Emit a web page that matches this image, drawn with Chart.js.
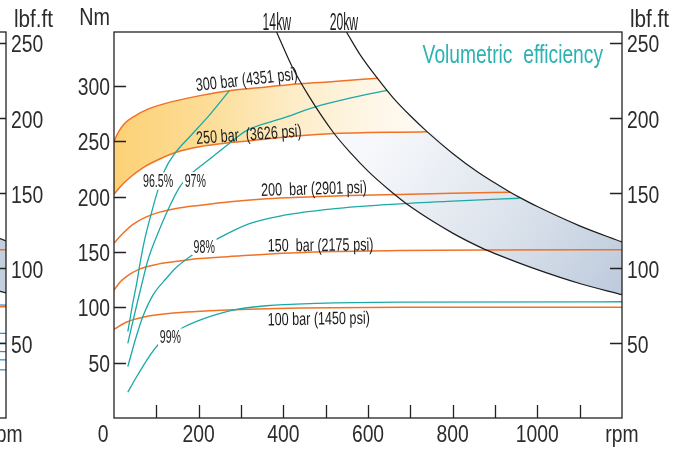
<!DOCTYPE html>
<html>
<head>
<meta charset="utf-8">
<script src="https://cdn.jsdelivr.net/npm/chart.js@4.4.1/dist/chart.umd.min.js"></script>
<style>
  body { margin: 0; background: #fff; overflow: hidden; }
  #wrap { position: relative; width: 681px; height: 452px; overflow: hidden; }
  #prevChart { position: absolute; left: -616px; top: 0; }
  #mainChart { position: absolute; left: 0; top: 0; }
</style>
</head>
<body>
<div id="wrap">
  <canvas id="prevChart" width="681" height="452"></canvas>
  <canvas id="mainChart" width="681" height="452"></canvas>
</div>
<script>
// torque (Nm) against speed (rpm) at each pressure
const rpm300 = [0, 10, 25, 50, 80, 120, 200, 280, 360, 440, 520, 622];
const nm300 = [250, 258, 266, 273, 279, 284, 291, 296, 299, 302, 304, 307];
const rpm250 = [0, 15, 37, 68, 108, 147, 202, 281, 360, 438, 520, 600, 675, 740];
const nm250 = [202, 209, 217, 226, 234, 240, 245, 249, 252, 255, 257, 257.8, 258.2, 258.5];
const rpm200 = [0, 20, 45, 75, 108, 150, 200, 281, 360, 440, 557, 675, 800, 936];
const nm200 = [158, 166.5, 175, 181.5, 186, 189.5, 192, 195.5, 198, 199.5, 201, 202, 203, 204];
const rpm150 = [0, 15, 30, 60, 104, 150, 202, 300, 360, 517, 675, 900, 1200];
const nm150 = [115.5, 123, 128, 134.5, 139, 141.5, 144, 146.5, 148, 150.3, 151.3, 151.8, 152];
const rpm100 = [0, 29, 68, 147, 226, 281, 360, 438, 675, 1200];
const nm100 = [80, 86.5, 91, 95, 96.8, 97.8, 98.8, 99.4, 100, 100];

// volumetric efficiency lines
const rpmEff965 = [32.6, 44, 55, 60, 72, 88, 103.5, 119.4, 143, 180, 221.7, 273];
const nmEff965 = [78, 103, 124.5, 136.5, 160.5, 184.6, 205.6, 223.6, 238.6, 254.5, 272, 296];
const rpmEff97 = [32.6, 45, 55.5, 68, 80, 103.5, 127, 155, 182.5, 221.7, 261, 315, 399, 478, 557, 645];
const nmEff97 = [67.5, 88, 105, 124.5, 142.5, 166.6, 187.6, 208.6, 220.6, 232.6, 244.6, 260, 270.8, 281.3, 288.9, 296];
const rpmEff98 = [32.6, 52.5, 68, 92, 123.4, 150, 178.5, 210, 245, 320, 399, 517, 675, 800, 958];
const nmEff98 = [46.4, 73.4, 91.4, 111, 126, 137, 145.5, 154, 162, 175.6, 183, 189, 193.5, 196, 198.5];
const rpmEff99 = [32.6, 50, 68, 85, 103.5, 135, 166.7, 225.8, 281, 360, 478, 675, 1200];
const nmEff99 = [23.3, 35, 46.4, 56.5, 66, 75, 82.4, 91.5, 97.5, 101.4, 103.5, 104.7, 105];

// constant power lines
const rpm14kw = [384, 420, 460, 520, 560, 600, 650, 700, 800, 872, 900, 1000, 1100, 1200];
const nm14kw = [348.7, 318, 291, 257, 239, 223, 206, 191, 167, 153, 148.5, 134, 121.5, 111.4];
const rpm20kw = [549, 580, 622, 660, 700, 740, 800, 860, 936, 958, 1000, 1100, 1200];
const nm20kw = [348.7, 329, 307, 289, 273, 258.5, 239, 222, 204, 199.3, 191, 173.6, 159];

// right edge of the neighbouring chart
const prevRpm = [1100, 1200];
const prevBandTop = [175, 160];
const prevBandBottom = [123, 113];
const prevPressA = [152, 152];
const prevPressB = [100.5, 100.5];
const prevEffLines = [[103, 102], [77, 76.5], [68, 67.5], [60.5, 60], [53, 52.5], [44, 43.5]];

// axes
const rpmTicks = [100, 200, 300, 400, 500, 600, 700, 800, 900, 1000, 1100, 1200];
const nmTicks = [50, 100, 150, 200, 250, 300];
const lbfTicks = [50, 100, 150, 200, 250];
const rpmMax = 1200;
const nmMax = 348.7;
const nmPerLbfFt = 1.3558;

const FONT = "'Liberation Sans', Arial, sans-serif";
const ORANGE = '#f07226';
const TEAL = '#1aa9a7';
const INK = '#222';

const notes = [
  { text: '300 bar (4351 psi)', rpm: 195, nm: 295.4, angle: -6.5, size: 18, sx: 0.7 },
  { text: '250 bar  (3626 psi)', rpm: 195, nm: 247.6, angle: -4, size: 18, sx: 0.7 },
  { text: '200  bar (2901 psi)', rpm: 348, nm: 200.6, angle: -1.6, size: 18, sx: 0.7 },
  { text: '150  bar (2175 psi)', rpm: 363, nm: 150.4, angle: -0.6, size: 18, sx: 0.7 },
  { text: '100 bar (1450 psi)', rpm: 363, nm: 83.6, angle: -1, size: 18, sx: 0.7 },
  { text: '96.5%', rpm: 68.5, nm: 208.4, angle: 0, size: 19, sx: 0.56, box: true },
  { text: '97%', rpm: 167, nm: 208.7, angle: 0, size: 19, sx: 0.56, box: true },
  { text: '98%', rpm: 188, nm: 149.3, angle: 0, size: 19, sx: 0.56, box: true },
  { text: '99%', rpm: 108, nm: 67.5, angle: 0, size: 19, sx: 0.56, box: true },
  { text: '14kw', rpm: 351, nm: 350.6, angle: 0, size: 23, sx: 0.53 },
  { text: '20kw', rpm: 509.5, nm: 350.6, angle: 0, size: 23, sx: 0.53 },
  { text: 'Volumetric  efficiency', rpm: 729, nm: 320.7, angle: 0, size: 25, sx: 0.77, color: '#2ab3b0' }
];

function pts(xs, ys) {
  return xs.map((x, i) => ({ x, y: ys[i] }));
}

const p300 = pts(rpm300, nm300);
const p250 = pts(rpm250, nm250);
const p14 = pts(rpm14kw, nm14kw);
const p20 = pts(rpm20kw, nm20kw);
const end300 = rpm300[rpm300.length - 1];
const end250 = rpm250[rpm250.length - 1];
const cross14 = 520; // where 14kw meets 250 bar

const yellowTop = p300.concat(p20.filter(p => p.x > end300 && p.x <= end250));
const blueTop = p250.filter(p => p.x >= cross14).concat(p20.filter(p => p.x > end250));
const blueBottom = p14.filter(p => p.x >= cross14);

function yellowFill(c) {
  const chart = c.chart;
  if (!chart.chartArea) return null;
  const x = chart.scales.x;
  const g = chart.ctx.createLinearGradient(x.getPixelForValue(0), 0, x.getPixelForValue(720), 0);
  g.addColorStop(0, 'rgb(252,209,118)');
  g.addColorStop(0.3, 'rgb(252,221,150)');
  g.addColorStop(0.6, 'rgb(253,237,201)');
  g.addColorStop(0.85, 'rgb(254,246,231)');
  g.addColorStop(1, 'rgb(254,250,244)');
  return g;
}

function blueFill(c) {
  const chart = c.chart;
  if (!chart.chartArea) return null;
  const { x, y } = chart.scales;
  const g = chart.ctx.createLinearGradient(
    x.getPixelForValue(640), y.getPixelForValue(260),
    x.getPixelForValue(1200), y.getPixelForValue(110));
  g.addColorStop(0, 'rgb(247,248,251)');
  g.addColorStop(0.5, 'rgb(221,228,237)');
  g.addColorStop(1, 'rgb(189,202,220)');
  return g;
}

function line(data, color, width, order) {
  return {
    data, borderColor: color, borderWidth: width, pointRadius: 0,
    cubicInterpolationMode: 'monotone', fill: false, order
  };
}

const mainDatasets = [
  { data: yellowTop, borderWidth: 0, pointRadius: 0, cubicInterpolationMode: 'monotone',
    fill: { target: 1 }, backgroundColor: yellowFill, order: 20 },
  { data: p250, borderWidth: 0, pointRadius: 0, cubicInterpolationMode: 'monotone', fill: false, order: 21 },
  { data: blueTop, borderWidth: 0, pointRadius: 0, cubicInterpolationMode: 'monotone',
    fill: { target: 3 }, backgroundColor: blueFill, order: 18 },
  { data: blueBottom, borderWidth: 0, pointRadius: 0, cubicInterpolationMode: 'monotone', fill: false, order: 19 },
  line(p300, ORANGE, 1.5, 5),
  line(p250, ORANGE, 1.5, 5),
  line(pts(rpm200, nm200), ORANGE, 1.5, 5),
  line(pts(rpm150, nm150), ORANGE, 1.5, 5),
  line(pts(rpm100, nm100), ORANGE, 1.5, 5),
  line(pts(rpmEff965, nmEff965), TEAL, 1.3, 4),
  line(pts(rpmEff97, nmEff97), TEAL, 1.3, 4),
  line(pts(rpmEff98, nmEff98), TEAL, 1.3, 4),
  line(pts(rpmEff99, nmEff99), TEAL, 1.3, 4),
  line(p14, '#1c1c1c', 1.2, 1),
  line(p20, '#1c1c1c', 1.2, 1)
];

const prevDatasets = [
  { data: pts(prevRpm, prevBandTop), borderColor: '#1c1c1c', borderWidth: 1.2, pointRadius: 0,
    fill: { target: 1 }, backgroundColor: 'rgb(196,207,222)', order: 20 },
  line(pts(prevRpm, prevBandBottom), '#1c1c1c', 1.2, 19),
  line(pts(prevRpm, prevPressA), ORANGE, 1.5, 5),
  line(pts(prevRpm, prevPressB), ORANGE, 1.5, 5)
].concat(prevEffLines.map(v => line(pts(prevRpm, v), '#2f8fd2', 1.3, 4)));

function rpmLabel(v) {
  if (v === rpmMax) return 'rpm';
  return v % 200 === 0 ? String(v) : '';
}

// condensed text: plain font squeezed sideways
function narrowText(ctx, text, x, y, align, sx) {
  ctx.save();
  ctx.translate(x, y);
  ctx.scale(sx, 1);
  ctx.textAlign = align;
  ctx.fillText(text, 0, 0);
  ctx.restore();
}

const framePlugin = {
  id: 'frame',
  afterDraw(chart) {
    const { ctx, chartArea: a, scales } = chart;
    ctx.save();
    ctx.strokeStyle = INK;
    ctx.lineWidth = 1.3;
    ctx.strokeRect(a.left, a.top, a.right - a.left, a.bottom - a.top);
    ctx.beginPath();
    scales.x.ticks.forEach(t => {
      if (t.value >= rpmMax) return;
      const px = Math.round(scales.x.getPixelForValue(t.value)) + 0.5;
      ctx.moveTo(px, a.bottom);
      ctx.lineTo(px, a.bottom - 13);
    });
    scales.y.ticks.forEach(t => {
      const py = Math.round(scales.y.getPixelForValue(t.value)) + 0.5;
      ctx.moveTo(a.left, py);
      ctx.lineTo(a.left + 12, py);
    });
    scales.y2.ticks.forEach(t => {
      const py = Math.round(scales.y2.getPixelForValue(t.value)) + 0.5;
      ctx.moveTo(a.right, py);
      ctx.lineTo(a.right - 12, py);
    });
    ctx.stroke();

    ctx.fillStyle = '#2c2c2c';
    ctx.font = '23px ' + FONT;
    ctx.textBaseline = 'alphabetic';
    scales.x.ticks.forEach(t => {
      narrowText(ctx, rpmLabel(t.value), scales.x.getPixelForValue(t.value), a.bottom + 24, 'center', 0.84);
    });
    scales.y.ticks.forEach(t => {
      narrowText(ctx, String(t.value), a.left - 4, scales.y.getPixelForValue(t.value) + 9, 'right', 0.84);
    });
    scales.y2.ticks.forEach(t => {
      narrowText(ctx, String(t.value), a.right + 5, scales.y2.getPixelForValue(t.value) + 9.7, 'left', 0.84);
    });
    narrowText(ctx, 'Nm', a.left - 4, a.top - 7, 'right', 0.86);
    narrowText(ctx, 'lbf.ft', a.right + 8, a.top - 5, 'left', 0.9);
    narrowText(ctx, '0', a.left - 11, a.bottom + 24, 'center', 0.84);
    ctx.restore();
  }
};

const notesPlugin = {
  id: 'notes',
  afterDatasetsDraw(chart) {
    const { ctx, scales } = chart;
    notes.forEach(n => {
      ctx.save();
      ctx.translate(scales.x.getPixelForValue(n.rpm), scales.y.getPixelForValue(n.nm));
      ctx.rotate(n.angle * Math.PI / 180);
      ctx.scale(n.sx, 1);
      ctx.font = n.size + 'px ' + FONT;
      ctx.textBaseline = 'alphabetic';
      ctx.textAlign = 'left';
      if (n.box) {
        const w = ctx.measureText(n.text).width;
        ctx.fillStyle = '#fff';
        ctx.fillRect(-3, -n.size * 0.78, w + 6, n.size * 0.9);
      }
      ctx.fillStyle = n.color || '#1b1b1b';
      ctx.fillText(n.text, 0, 0);
      ctx.restore();
    });
  }
};

function fixedTicks(values) {
  return s => { s.ticks = values.map(v => ({ value: v })); };
}

function makeOptions() {
  const hidden = { display: false, drawTicks: false };
  return {
    responsive: false,
    animation: false,
    devicePixelRatio: 1,
    layout: { padding: { top: 32, left: 0, right: 0, bottom: 0 } },
    plugins: { legend: { display: false }, tooltip: { enabled: false } },
    scales: {
      x: {
        type: 'linear', position: 'bottom', min: 0, max: rpmMax,
        grid: hidden, border: { display: false }, ticks: { display: false },
        afterBuildTicks: fixedTicks(rpmTicks),
        afterFit: s => { s.height = 34; }
      },
      y: {
        type: 'linear', position: 'left', min: 0, max: nmMax,
        grid: hidden, border: { display: false }, ticks: { display: false },
        afterBuildTicks: fixedTicks(nmTicks),
        afterFit: s => { s.width = 114; }
      },
      y2: {
        type: 'linear', position: 'right', min: 0, max: nmMax / nmPerLbfFt,
        grid: hidden, border: { display: false }, ticks: { display: false },
        afterBuildTicks: fixedTicks(lbfTicks),
        afterFit: s => { s.width = 59; }
      }
    }
  };
}

new Chart(document.getElementById('prevChart'), {
  type: 'line',
  data: { datasets: prevDatasets },
  options: makeOptions(),
  plugins: [framePlugin]
});

new Chart(document.getElementById('mainChart'), {
  type: 'line',
  data: { datasets: mainDatasets },
  options: makeOptions(),
  plugins: [framePlugin, notesPlugin]
});
</script>
</body>
</html>
